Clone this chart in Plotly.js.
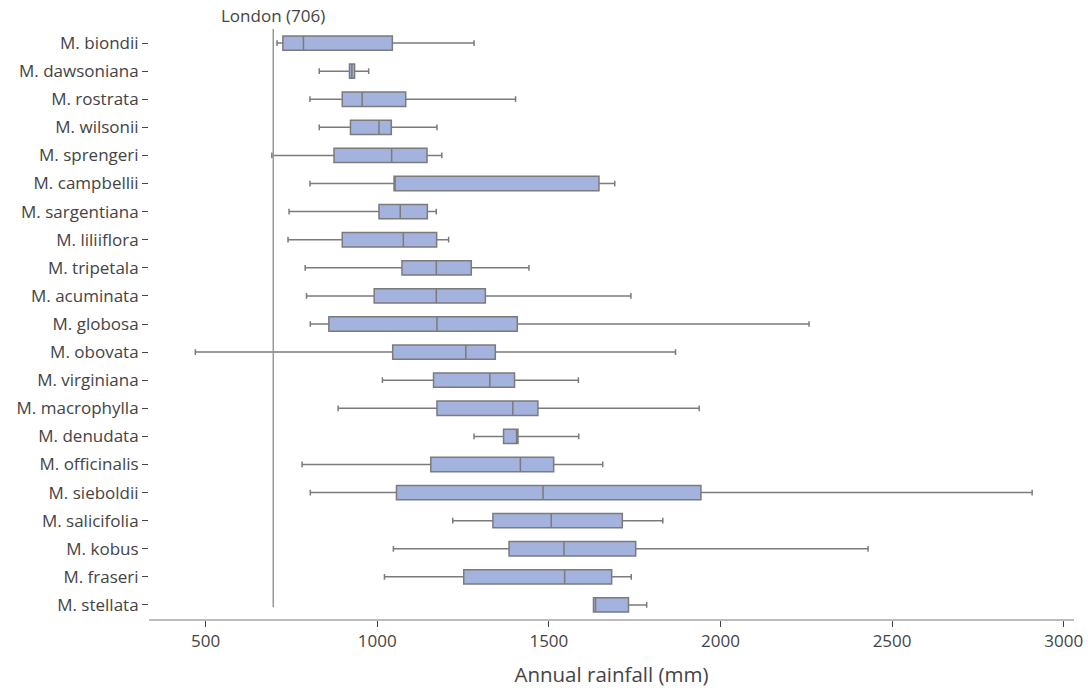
<!DOCTYPE html>
<html>
<head>
<meta charset="utf-8">
<script src="https://cdn.plot.ly/plotly-3.0.1.min.js"></script>
<style>html,body{margin:0;padding:0;background:#fff;}#chart{width:1088px;height:691px;}</style>
</head>
<body>
<div id="chart"></div>
<script>
const species = ["M. biondii","M. dawsoniana","M. rostrata","M. wilsonii","M. sprengeri","M. campbellii","M. sargentiana","M. liliiflora","M. tripetala","M. acuminata","M. globosa","M. obovata","M. virginiana","M. macrophylla","M. denudata","M. officinalis","M. sieboldii","M. salicifolia","M. kobus","M. fraseri","M. stellata"];
const lowerFence = [708, 831, 804, 831, 693, 804, 743, 740, 790, 794, 805, 470, 1015, 886, 1282, 781, 805, 1220, 1047, 1021, 1630];
const q1 = [725, 919, 898, 922, 874, 1049, 1005, 898, 1072, 991, 859, 1045, 1164, 1174, 1368, 1156, 1056, 1337, 1384, 1252, 1630];
const median = [785, 926, 956, 1005, 1042, 1052, 1067, 1076, 1172, 1172, 1174, 1258, 1328, 1395, 1406, 1417, 1483, 1507, 1544, 1546, 1636];
const q3 = [1044, 934, 1083, 1041, 1145, 1646, 1146, 1173, 1274, 1315, 1408, 1344, 1400, 1468, 1410, 1514, 1943, 1714, 1753, 1683, 1732];
const upperFence = [1282, 975, 1403, 1174, 1188, 1692, 1172, 1208, 1442, 1739, 2258, 1869, 1586, 1938, 1587, 1657, 2908, 1832, 2430, 1740, 1785];
const londonLine = 697;
const londonLabel = "London (706)";
const xTicks = [500, 1000, 1500, 2000, 2500, 3000];

const trace = {
  type: 'box',
  orientation: 'h',
  y: species,
  lowerfence: lowerFence,
  q1: q1,
  median: median,
  q3: q3,
  upperfence: upperFence,
  fillcolor: '#a4b2de',
  line: {color: '#7b7b7b', width: 1.5},
  whiskerwidth: 0.4,
  width: 0.51,
  boxpoints: false,
  hoverinfo: 'x+y',
  showlegend: false
};

const layout = {
  width: 1088, height: 691,
  margin: {l: 149, r: 14, t: 29, b: 72},
  paper_bgcolor: '#fff', plot_bgcolor: '#fff',
  font: {family: '"Open Sans", "Noto Sans", sans-serif', color: '#444', size: 17},
  xaxis: {
    range: [335, 3030],
    tickvals: xTicks,
    ticktext: xTicks.map(String),
    ticks: 'outside', ticklen: 6, tickcolor: '#444', tickwidth: 1,
    showline: true, linecolor: '#bdbdbd', linewidth: 1.5,
    showgrid: false, zeroline: false,
    tickfont: {size: 17, color: '#444'},
    title: {text: 'Annual rainfall (mm)', font: {size: 20.5, color: '#444'}, standoff: 16}
  },
  yaxis: {
    range: [20.5, -0.5],
    autorange: false,
    type: 'category',
    ticks: 'outside', ticklen: 6, tickcolor: '#444', tickwidth: 1,
    showline: false, showgrid: false, zeroline: false,
    tickfont: {size: 17, color: '#444'}
  },
  shapes: [{
    type: 'line', xref: 'x', yref: 'paper',
    x0: londonLine, x1: londonLine, y0: 0.02, y1: 1,
    line: {color: '#999', width: 1.5}
  }],
  annotations: [{
    x: londonLine, xref: 'x', y: 1, yref: 'paper',
    yanchor: 'bottom', xanchor: 'center', yshift: 0,
    text: londonLabel, showarrow: false,
    font: {size: 17, color: '#444'}
  }]
};

Plotly.newPlot('chart', [trace], layout, {displayModeBar: false, staticPlot: true});
</script>
</body>
</html>
